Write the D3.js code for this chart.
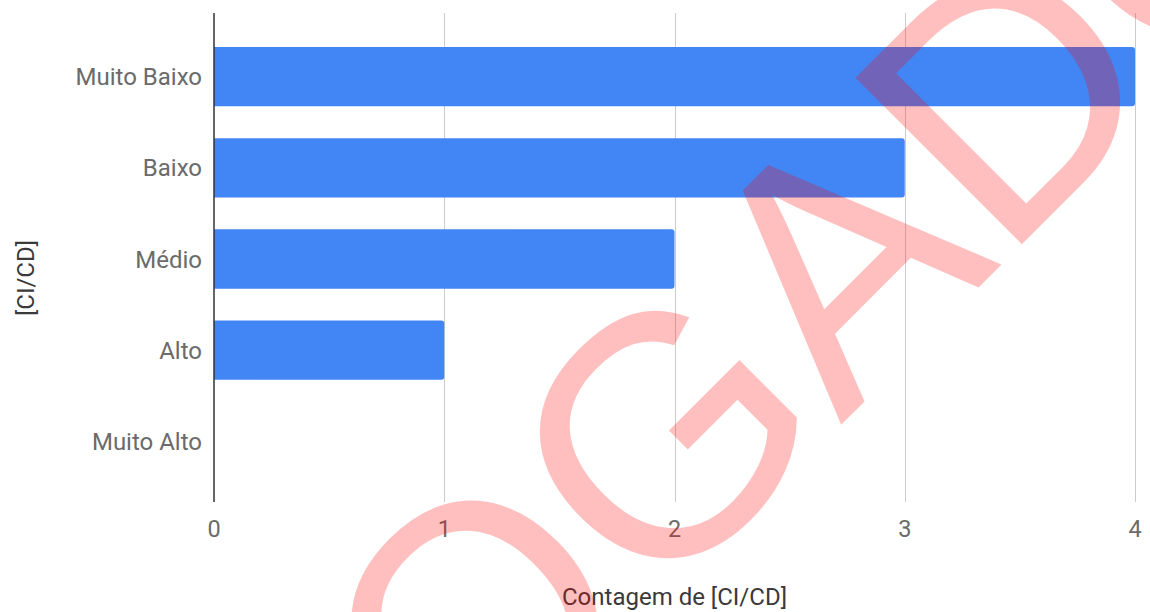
<!DOCTYPE html>
<html>
<head>
<meta charset="utf-8">
<script src="https://cdn.jsdelivr.net/npm/d3@7"></script>
<style>
  html, body { margin: 0; padding: 0; background: #fff; }
  svg { display: block; font-family: Roboto, "Noto Sans", Arial, sans-serif; }
</style>
</head>
<body>
<svg id="chart" width="1150" height="612"></svg>
<script>
// ---- data ----
const categories = ["Muito Baixo", "Baixo", "Médio", "Alto", "Muito Alto"];
const counts = [4, 3, 2, 1, 0];
const xTicks = [0, 1, 2, 3, 4];
const xTitle = "Contagem de [CI/CD]";
const yTitle = "[CI/CD]";
const watermark = "ADVOGADO";

const W = 1150, H = 612;
const plot = { left: 214, right: 1135, top: 13, bottom: 502, bandTop: 31, bandBottom: 487 };

const svg = d3.select("#chart");

const x = d3.scaleLinear().domain([0, 4]).range([plot.left, plot.right]);
const y = d3.scaleBand().domain(categories).range([plot.bandTop, plot.bandBottom]).paddingInner(0.35).paddingOuter(0.175);

// gridlines
svg.append("g").selectAll("line").data(xTicks.filter(d => d !== 0)).join("line")
  .attr("x1", d => Math.round(x(d)) + 0.5).attr("x2", d => Math.round(x(d)) + 0.5)
  .attr("y1", plot.top).attr("y2", plot.bottom)
  .attr("stroke", "#cccccc").attr("stroke-width", 1);

// bars with rounded right end
const r = 3;
function barPath(v, cat) {
  const x0 = x(0), x1 = x(v), y0 = y(cat), h = y.bandwidth();
  if (v <= 0) return null;
  return `M${x0},${y0} H${x1 - r} Q${x1},${y0} ${x1},${y0 + r} V${y0 + h - r} Q${x1},${y0 + h} ${x1 - r},${y0 + h} H${x0} Z`;
}
svg.append("g").selectAll("path").data(categories.map((c, i) => ({ c, v: counts[i] }))).join("path")
  .attr("d", d => barPath(d.v, d.c))
  .attr("fill", "#4285f4");

// baseline axis
svg.append("line")
  .attr("x1", plot.left).attr("x2", plot.left)
  .attr("y1", plot.top).attr("y2", plot.bottom)
  .attr("stroke", "#333333").attr("stroke-width", 1.5);

// category labels
svg.append("g").selectAll("text").data(categories).join("text")
  .attr("x", 202).attr("y", d => y(d) + y.bandwidth() / 2)
  .attr("dy", "0.36em")
  .attr("text-anchor", "end")
  .attr("font-size", 24).attr("fill", "#6b6b6b")
  .text(d => d);

// x tick labels
svg.append("g").selectAll("text").data(xTicks).join("text")
  .attr("x", d => x(d)).attr("y", 537)
  .attr("text-anchor", "middle")
  .attr("font-size", 23.5).attr("fill", "#6b6b6b")
  .text(d => d);

// axis titles
svg.append("text")
  .attr("x", (plot.left + plot.right) / 2).attr("y", 605)
  .attr("text-anchor", "middle")
  .attr("font-size", 24).attr("fill", "#3a3a3a")
  .text(xTitle);

svg.append("text")
  .attr("transform", "translate(34,278) rotate(-90)")
  .attr("text-anchor", "middle")
  .attr("font-size", 24).attr("fill", "#3a3a3a")
  .text(yTitle);

// watermark
svg.append("text")
  .attr("transform", "translate(666,600) rotate(-45)")
  .attr("text-anchor", "middle")
  .attr("font-family", "'Liberation Sans', Arial, sans-serif")
  .attr("font-size", 342)
  .attr("fill", "rgb(255,0,0)").attr("fill-opacity", 0.25)
  .text(watermark);
</script>
</body>
</html>
